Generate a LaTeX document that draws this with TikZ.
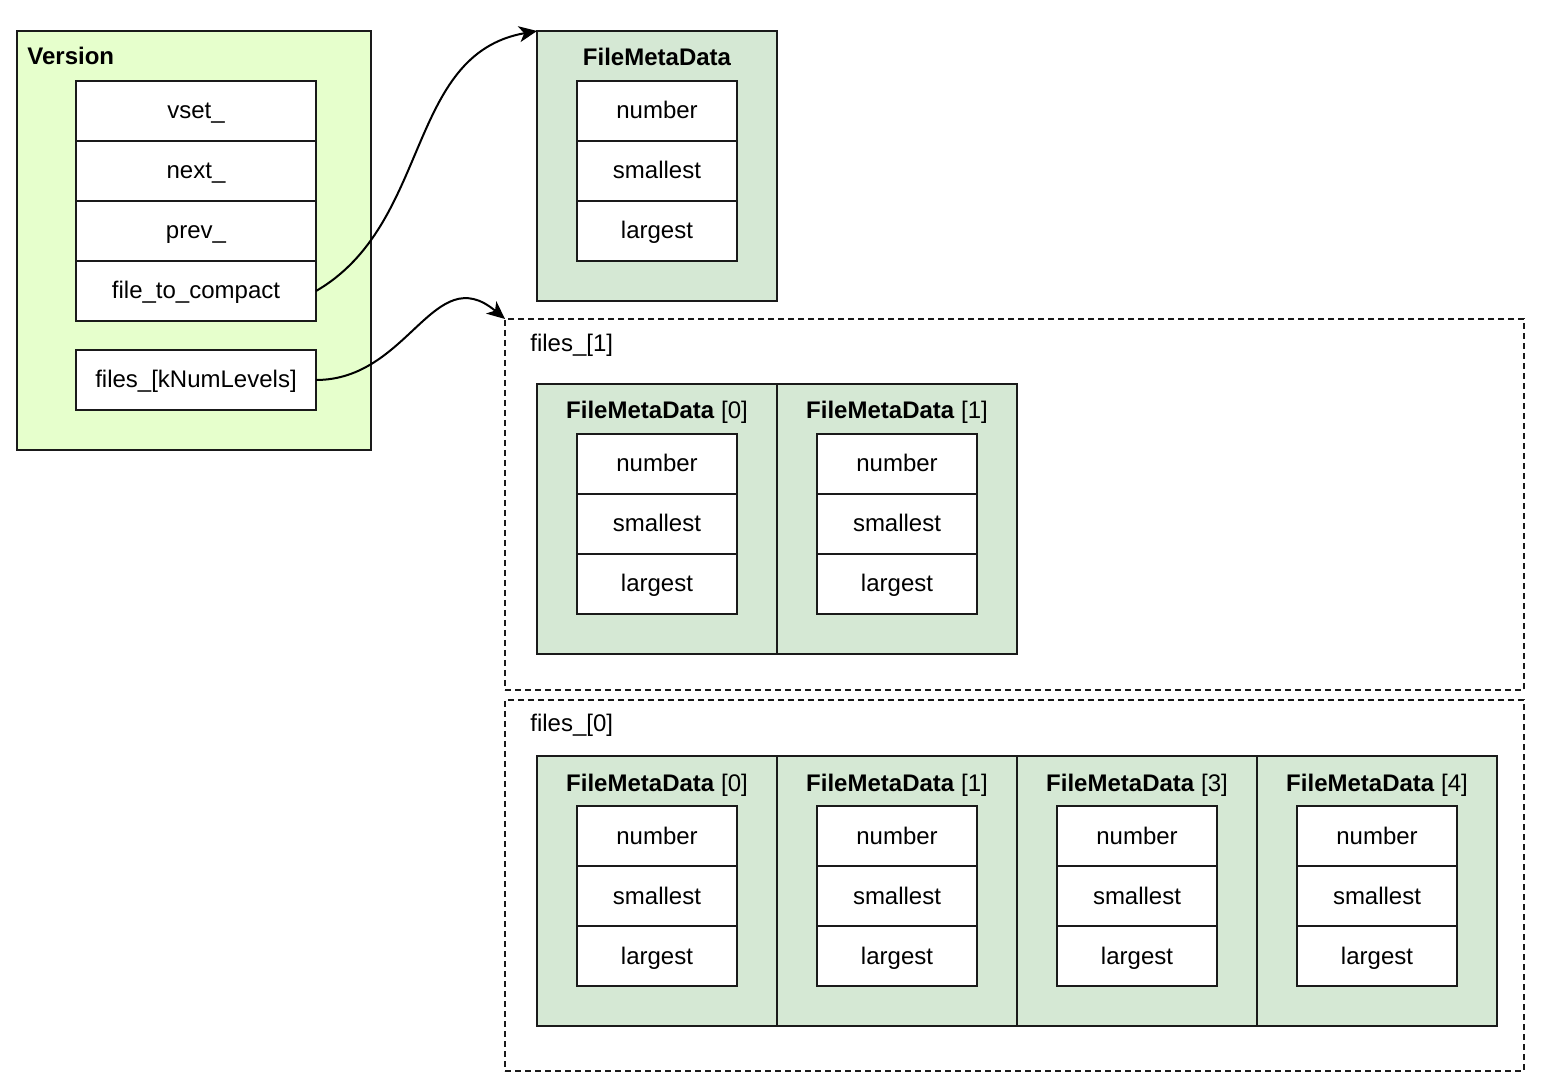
\documentclass[tikz,border=0pt]{standalone}
\usepackage{fontspec}
\setmainfont{Liberation Sans}
\usepackage{xcolor}
\definecolor{cVersion}{HTML}{E6FFCC}
\definecolor{cMeta}{HTML}{D5E8D4}
\definecolor{cLine}{HTML}{1A1A1A}
\usetikzlibrary{positioning,arrows.meta}
\tikzset{
  box-version/.style={draw=cLine,line width=1pt,fill=cVersion,anchor=north west,
    minimum width=177pt,minimum height=209.5pt,inner sep=0pt,outer sep=0pt},
  box-meta/.style={draw=cLine,line width=1pt,fill=cMeta,anchor=north west,
    minimum width=120pt,minimum height=135pt,inner sep=0pt,outer sep=0pt},
  box-level/.style={draw=cLine,line width=1pt,dash pattern=on 3pt off 2pt,
    anchor=north west,minimum width=509.5pt,minimum height=185.5pt,
    inner sep=0pt,outer sep=0pt},
  field/.style={draw=cLine,line width=1pt,fill=white,minimum width=120pt,
    minimum height=30pt,inner sep=0pt,outer sep=0pt,text height=10pt,text depth=2pt},
  field-meta/.style={field,minimum width=80pt},
  box-title/.style={font=\fontsize{12pt}{14pt}\selectfont\bfseries,inner sep=0pt,
    text height=10pt,text depth=2pt},
  meta-title/.style={font=\fontsize{12pt}{14pt}\selectfont,inner sep=0pt,
    text height=10pt,text depth=2pt},
  arrow/.style={-{Stealth[length=9pt,width=8pt,inset=2.5pt]},line width=1pt,draw=black},
}

\begin{document}
\begin{tikzpicture}[x=0.5pt,y=-0.5pt,font=\fontsize{12pt}{14pt}\selectfont]
  \useasboundingbox (0,0) rectangle (1542,1090);
  % Version
  \node[box-version] (ver) at (17,31) {};
  \node[box-title,anchor=west] (ver-t) at (27,57) {Version};
  \node[field] (ver-vset) at (196,111) {vset\_};
  \node[field,below=0pt of ver-vset] (ver-next) {next\_};
  \node[field,below=0pt of ver-next] (ver-prev) {prev\_};
  \node[field,below=0pt of ver-prev] (ver-compact) {file\_to\_compact};
  \node[field] (ver-files) at (196,380) {files\_[kNumLevels]};
  % file_to_compact
  \node[box-meta] (fmd) at (537,31) {};
  \node[box-title] (fmd-t) at ([yshift=-13.5pt]fmd.north) {FileMetaData};
  \node[field-meta] (fmd-n) at ([yshift=-40pt]fmd.north) {number};
  \node[field-meta,below=0pt of fmd-n] (fmd-s) {smallest};
  \node[field-meta,below=0pt of fmd-s] (fmd-l) {largest};
  % files_[1]
  \node[box-level] (lvl1) at (505,319) {};
  \node[meta-title,anchor=west] (lvl1-t) at (530,344) {files\_[1]};
  \foreach \i/\lab in {0/0,1/1} {
    \node[box-meta] (l1-m\i) at ({537+240*\i},384) {};
    \node[meta-title] at ([yshift=-13.5pt]l1-m\i.north)
      {\textbf{FileMetaData} [\lab]};
    \node[field-meta] (l1-m\i-n) at ([yshift=-40pt]l1-m\i.north) {number};
    \node[field-meta,below=0pt of l1-m\i-n] (l1-m\i-s) {smallest};
    \node[field-meta,below=0pt of l1-m\i-s] (l1-m\i-l) {largest};
  }
  % files_[0]
  \node[box-level] (lvl0) at (505,700) {};
  \node[meta-title,anchor=west] (lvl0-t) at (530,723) {files\_[0]};
  \foreach \i/\lab in {0/0,1/1,2/3,3/4} {
    \node[box-meta] (l0-m\i) at ({537+240*\i},756) {};
    \node[meta-title] at ([yshift=-13.5pt]l0-m\i.north)
      {\textbf{FileMetaData} [\lab]};
    \node[field-meta] (l0-m\i-n) at ([yshift=-40pt]l0-m\i.north) {number};
    \node[field-meta,below=0pt of l0-m\i-n] (l0-m\i-s) {smallest};
    \node[field-meta,below=0pt of l0-m\i-s] (l0-m\i-l) {largest};
  }
  \draw[arrow] (ver-compact.east) to[out=30,in=190] (fmd.north west);
  \draw[arrow] (ver-files.east) to[out=0,in=140,looseness=1.2] (lvl1.north west);
\end{tikzpicture}
\end{document}
